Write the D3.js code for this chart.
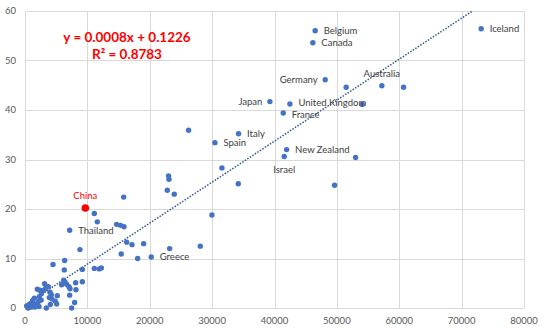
<!DOCTYPE html>
<html><head><meta charset="utf-8">
<script src="https://cdn.jsdelivr.net/npm/d3@7"></script>
<style>html,body{margin:0;padding:0;background:#fff;}svg{display:block;}</style>
</head><body>
<svg id="chart" width="554" height="332"></svg>
<script>
// ---- data ----
const gdpPerCapita = [73130,46520,46150,48130,57210,39260,42470,41400,41940,41560,34240,30450,20240,7160,9670,
  51490,60690,54060,53000,49630,26230,31570,34190,29970,28100,23020,23080,22810,23930,15820,11110,11590,
  14690,15330,15870,16300,17150,19020,23190,15430,18060,8810,6360,4490,6300,9190,11110,11910,12230,9190,
  8120,6200,6410,5870,6680,7050,7210,8170,7160,7960,7480,5180,3150,3740,3040,4010,4220,3900,4330,4860,
  5080,4060,3420,1980,2620,2300,1500,1230,2190,1920,800,270,1070,1600,2240,480,3370,2400,600,900,1300,1700,2600];
const indicator = [56.4,56.0,53.6,46.1,44.9,41.7,41.2,39.4,32.0,30.6,35.2,33.4,10.3,15.7,20.2,
  44.6,44.6,41.1,30.4,24.8,35.9,28.3,25.1,18.8,12.5,26.7,26.0,23.8,23.0,22.4,19.1,17.4,
  16.9,16.7,16.4,13.3,12.8,13.0,12.0,10.9,10.0,11.8,9.6,8.8,7.7,7.8,8.0,7.9,8.1,5.3,
  5.1,5.6,5.25,4.7,4.8,4.3,3.9,3.7,2.6,1.1,0.0,2.5,4.9,4.3,3.6,3.2,2.7,2.1,1.8,1.35,
  0.8,0.7,0.0,3.8,2.9,2.3,2.0,1.55,1.35,0.8,0.8,0.4,0.2,0.2,0.3,0.0,4.2,3.6,0.1,0.5,1.0,0.6,1.6];
const countryNames = ["Iceland","Belgium","Canada","Germany","Australia","Japan","United Kingdom","France",
  "New Zealand","Israel","Italy","Spain","Greece","Thailand","China"];
const xTicks = [0,10000,20000,30000,40000,50000,60000,70000,80000];
const yTicks = [0,10,20,30,40,50,60];
const trendSlope = 0.000828;
const trendIntercept = 0.59;
const equationLines = ["y = 0.0008x + 0.1226", "R² = 0.8783"];
const highlight = "China";
// label side (layout only)
const labelSide = {"Iceland":"right","Belgium":"right","Canada":"right","Germany":"left","Australia":"top",
  "Japan":"left","United Kingdom":"right","France":"right","New Zealand":"right","Israel":"bottom",
  "Italy":"right","Spain":"right","Greece":"right","Thailand":"right","China":"top"};
const labelNudge = {"United Kingdom":-1.5,"France":1.5};

(function(){
const points = gdpPerCapita.map((g,i)=>({x:g,y:indicator[i],name:countryNames[i]||""}));

const svg = d3.select("#chart");
const pl=25,pr=524,pt=11,pb=308;
const x = d3.scaleLinear().domain([0,80000]).range([pl,pr]);
const y = d3.scaleLinear().domain([0,60]).range([pb,pt]);
const font = "Lato, 'Liberation Sans', sans-serif";

// gridlines
svg.append("g").selectAll("line").data(xTicks).join("line")
  .attr("x1",d=>Math.round(x(d))+0.5).attr("x2",d=>Math.round(x(d))+0.5)
  .attr("y1",pt).attr("y2",pb).attr("stroke","#d9d9d9").attr("stroke-width",1);
svg.append("g").selectAll("line").data(yTicks).join("line")
  .attr("y1",d=>Math.round(y(d))+0.5).attr("y2",d=>Math.round(y(d))+0.5)
  .attr("x1",pl).attr("x2",pr).attr("stroke","#d9d9d9").attr("stroke-width",1);

// tick labels
svg.append("g").selectAll("text").data(yTicks).join("text")
  .attr("x",16).attr("y",d=>y(d)).attr("dy","0.35em").attr("text-anchor","end")
  .attr("font-family",font).attr("font-size",9.5).attr("fill","#595959").text(d=>d);
svg.append("g").selectAll("text").data(xTicks).join("text")
  .attr("x",d=>x(d)).attr("y",324).attr("text-anchor","middle")
  .attr("font-family",font).attr("font-size",9.5).attr("fill","#595959").text(d=>d);

// trendline
svg.append("clipPath").attr("id","clip").append("rect")
  .attr("x",pl).attr("y",pt).attr("width",pr-pl).attr("height",pb-pt);
const xmin=d3.min(gdpPerCapita), xmax=d3.max(gdpPerCapita);
svg.append("line").attr("clip-path","url(#clip)")
  .attr("x1",x(xmin)).attr("y1",y(trendSlope*xmin+trendIntercept))
  .attr("x2",x(xmax)).attr("y2",y(trendSlope*xmax+trendIntercept))
  .attr("stroke","#2F5597").attr("stroke-width",1.5).attr("stroke-dasharray","1.5 1.5");

// points
svg.append("g").selectAll("circle").data(points.filter(p=>p.name!==highlight)).join("circle")
  .attr("cx",d=>x(d.x)).attr("cy",d=>y(d.y)).attr("r",2.7).attr("fill","#4472C4");
svg.append("g").selectAll("circle").data(points.filter(p=>p.name===highlight)).join("circle")
  .attr("cx",d=>x(d.x)).attr("cy",d=>y(d.y)).attr("r",3.8).attr("fill","#FF0000");

// labels
svg.append("g").selectAll("text").data(points.filter(p=>p.name)).join("text")
  .attr("x",d=>{const s=labelSide[d.name];return x(d.x)+(s==="right"?8.5:s==="left"?-7.5:0);})
  .attr("y",d=>{const s=labelSide[d.name];return y(d.y)+(s==="top"?-12.5:s==="bottom"?13:0)+(labelNudge[d.name]||0);})
  .attr("dy","0.35em")
  .attr("text-anchor",d=>{const s=labelSide[d.name];return s==="right"?"start":s==="left"?"end":"middle";})
  .attr("font-family",font).attr("font-size",9.5)
  .attr("fill",d=>d.name===highlight?"#FF0000":"#404040").text(d=>d.name);

// equation
svg.append("g").selectAll("text").data(equationLines).join("text")
  .attr("x",127).attr("y",(d,i)=>41.5+i*17.5).attr("text-anchor","middle")
  .attr("font-family",font).attr("font-weight","bold").attr("font-size",13.5)
  .attr("fill","#FF0000").text(d=>d);
})();
</script>
</body></html>
